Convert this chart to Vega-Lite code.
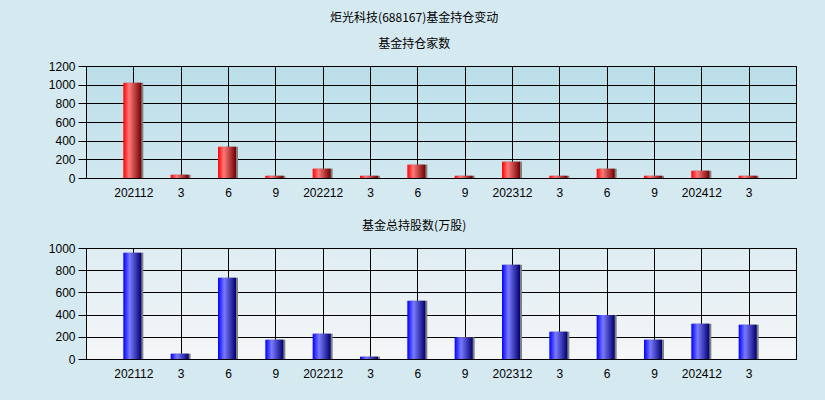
{
  "$schema": "https://vega.github.io/schema/vega-lite/v6.json",
  "background": "#d5e9f0",
  "padding": {"left": 47, "top": 11, "right": 30, "bottom": 20},
  "title": {"text": "炬光科技(688167)基金持仓变动", "anchor": "middle", "frame": "bounds", "font": "Noto Sans CJK SC", "fontSize": 12, "fontWeight": "normal", "color": "#000000", "offset": 13, "dx": -8},
  "datasets": {
    "funds": [
      {"period": "202112", "count": 1020, "shares": 958},
      {"period": "202203", "count": 35, "shares": 48},
      {"period": "202206", "count": 335, "shares": 732},
      {"period": "202209", "count": 24, "shares": 174},
      {"period": "202212", "count": 100, "shares": 228},
      {"period": "202303", "count": 24, "shares": 21},
      {"period": "202306", "count": 143, "shares": 525},
      {"period": "202309", "count": 24, "shares": 195},
      {"period": "202312", "count": 175, "shares": 850},
      {"period": "202403", "count": 24, "shares": 246},
      {"period": "202406", "count": 100, "shares": 396},
      {"period": "202409", "count": 24, "shares": 174},
      {"period": "202412", "count": 78, "shares": 318},
      {"period": "202503", "count": 24, "shares": 309}
    ]
  },
  "config": {
    "font": "Liberation Sans",
    "view": {"stroke": "#000000", "strokeWidth": 1},
    "title": {"font": "Noto Sans CJK SC", "fontSize": 12, "fontWeight": "normal", "color": "#000000"},
    "axis": {
      "labelFont": "Liberation Sans", "labelFontSize": 12, "labelColor": "#000000",
      "gridColor": "#000000", "gridOpacity": 1, "gridWidth": 1,
      "domain": false, "title": null
    }
  },
  "vconcat": [
    {
      "width": 710, "height": 112,
      "title": {"text": "基金持仓家数", "anchor": "middle", "frame": "bounds", "offset": 9, "dx": -8},
      "view": {"fill": {"gradient": "linear", "x1": 0, "x2": 0, "y1": 0, "y2": 1, "stops": [{"offset": 0, "color": "#badee9"}, {"offset": 1, "color": "#d1e7ef"}]}},
      "data": {"name": "funds"},
      "encoding": {
        "x": {"field": "period", "type": "ordinal", "sort": null,
              "scale": {"type": "point", "padding": 1},
              "axis": {"grid": true, "ticks": false, "labelPadding": 9, "labelAngle": 0,
                       "labelExpr": "substring(datum.value, 4) == '12' ? datum.value : '' + toNumber(substring(datum.value, 4))"}},
        "y": {"field": "count", "type": "quantitative",
              "scale": {"domain": [0, 1200], "nice": false},
              "axis": {"values": [0, 200, 400, 600, 800, 1000, 1200], "format": "d", "grid": true, "tickSize": 8, "tickColor": "#000000", "labelPadding": 3}}
      },
      "layer": [
        {"mark": {"type": "bar", "size": 18, "xOffset": 1, "color": "#808080"}},
        {"mark": {"type": "bar", "size": 18, "xOffset": -1,
                  "color": {"gradient": "linear", "x1": 0, "x2": 1, "y1": 0, "y2": 0,
                            "stops": [{"offset": 0, "color": "#ff0000"}, {"offset": 0.32, "color": "#ff7a7a"}, {"offset": 1, "color": "#720000"}]}}}
      ]
    },
    {
      "width": 710, "height": 111,
      "title": {"text": "基金总持股数(万股)", "anchor": "middle", "frame": "bounds", "offset": 9, "dx": -8},
      "view": {"fill": {"gradient": "linear", "x1": 0, "x2": 0, "y1": 0, "y2": 1, "stops": [{"offset": 0, "color": "#deedf2"}, {"offset": 1, "color": "#f5f6f8"}]}},
      "data": {"name": "funds"},
      "encoding": {
        "x": {"field": "period", "type": "ordinal", "sort": null,
              "scale": {"type": "point", "padding": 1},
              "axis": {"grid": true, "ticks": false, "labelPadding": 9, "labelAngle": 0,
                       "labelExpr": "substring(datum.value, 4) == '12' ? datum.value : '' + toNumber(substring(datum.value, 4))"}},
        "y": {"field": "shares", "type": "quantitative",
              "scale": {"domain": [0, 1000], "nice": false},
              "axis": {"values": [0, 200, 400, 600, 800, 1000], "format": "d", "grid": true, "tickSize": 8, "tickColor": "#000000", "labelPadding": 3}}
      },
      "layer": [
        {"mark": {"type": "bar", "size": 18, "xOffset": 1, "color": "#808080"}},
        {"mark": {"type": "bar", "size": 18, "xOffset": -1,
                  "color": {"gradient": "linear", "x1": 0, "x2": 1, "y1": 0, "y2": 0,
                            "stops": [{"offset": 0, "color": "#0000ff"}, {"offset": 0.35, "color": "#7a7aff"}, {"offset": 1, "color": "#000072"}]}}}
      ]
    }
  ],
  "spacing": 20
}
